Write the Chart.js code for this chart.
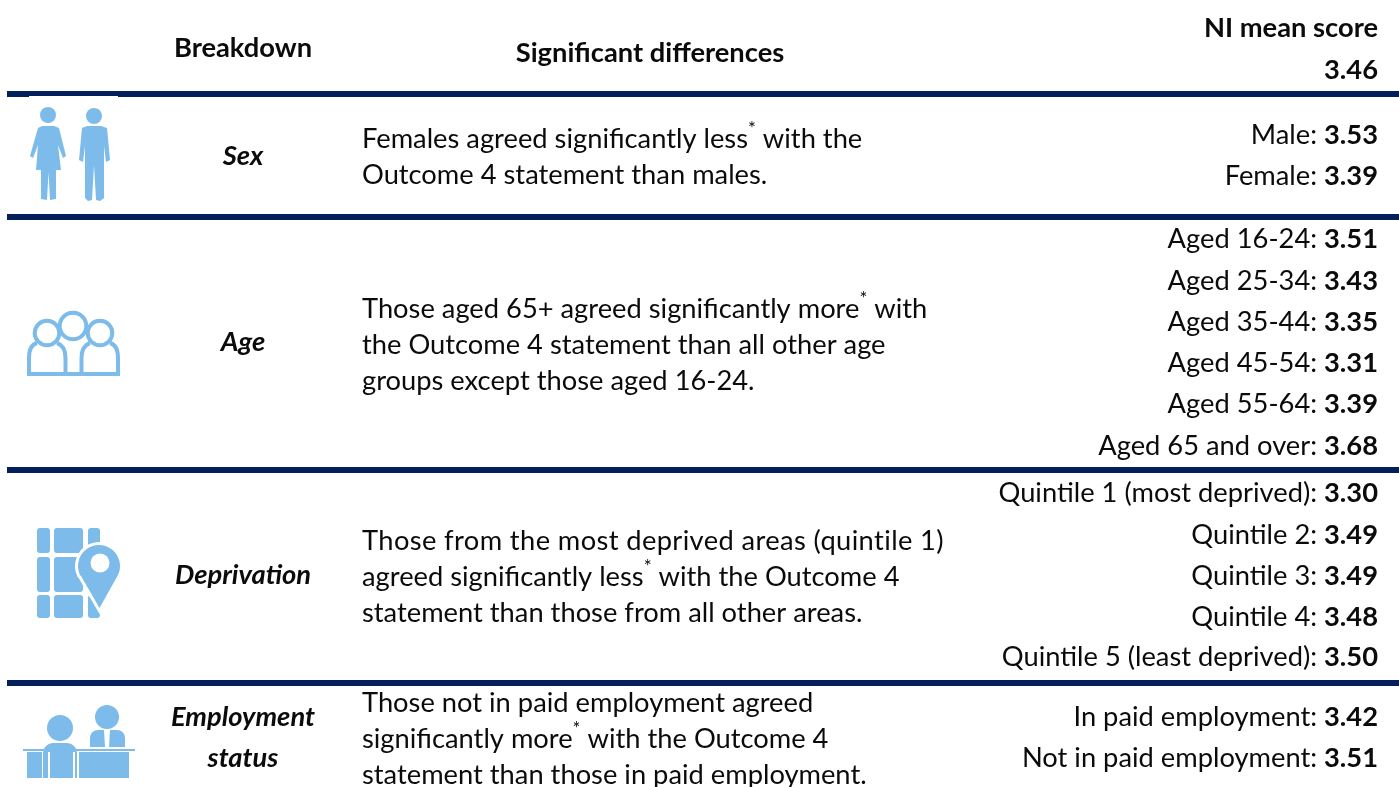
<!DOCTYPE html>
<html>
<head>
<meta charset="utf-8">
<style>
  html, body { margin: 0; padding: 0; background: #fff; }
  canvas { display: block; }
</style>
<script src="https://cdn.jsdelivr.net/npm/chart.js@4/dist/chart.umd.min.js"></script>
</head>
<body>
<canvas id="tabla" width="1399" height="787"></canvas>
<script>
const breakdowns = [['Sex'], ['Age'], ['Deprivation'], ['Employment', 'status']];

const differences = [
    [['Females agreed significantly less', '*', ' with the'], ['Outcome 4 statement than males.']],
    [['Those aged 65+ agreed significantly more', '*', ' with'], ['the Outcome 4 statement than all other age'], ['groups except those aged 16-24.']],
    [['Those from the most deprived areas (quintile 1)'], ['agreed significantly less', '*', ' with the Outcome 4'], ['statement than those from all other areas.']],
    [['Those not in paid employment agreed'], ['significantly more', '*', ' with the Outcome 4'], ['statement than those in paid employment.']]
];

const niMean = '3.46';

const rowLabels = [
    'Male', 'Female',
    'Aged 16-24', 'Aged 25-34', 'Aged 35-44', 'Aged 45-54', 'Aged 55-64', 'Aged 65 and over',
    'Quintile 1 (most deprived)', 'Quintile 2', 'Quintile 3', 'Quintile 4', 'Quintile 5 (least deprived)',
    'In paid employment', 'Not in paid employment'
];
const rowScores = ['3.53', '3.39', '3.51', '3.43', '3.35', '3.31', '3.39', '3.68', '3.30', '3.49', '3.49', '3.48', '3.50', '3.42', '3.51'];

// layout, in the units of the two scales
const ROW_Y = [135, 176, 239, 281, 322, 363, 404, 446, 493, 535, 576, 617, 657, 717, 758];
const RULE_Y = [94, 217, 470, 683];
const BREAKDOWN_Y = [[156], [342], [575], [717, 758]];
const DIFF_Y = [[139, 175], [309, 345, 381], [541, 577, 613], [703, 739, 775]];
const RIGHT_X = 1378;
const DIFF_X = 362;
const BREAKDOWN_X = 243;

const FAMILY = 'Lato, sans-serif';
const SIZE = 27.3;
const INK = '#0b0b0b';
const NAVY = '#03205c';
const ICON = '#7cbbea';

const text = (ctx, s, x, y, font, align) => {
    ctx.font = font;
    ctx.textAlign = align || 'left';
    ctx.textBaseline = 'middle';
    ctx.fillStyle = INK;
    ctx.fillText(s, x, y);
};

const rr = (ctx, x, y, w, h, r) => {
    ctx.beginPath();
    ctx.roundRect(x, y, w, h, r);
    ctx.fill();
};

const circle = (ctx, x, y, r) => {
    ctx.beginPath();
    ctx.arc(x, y, r, 0, Math.PI * 2);
    ctx.fill();
};

const poly = (ctx, pts) => {
    ctx.beginPath();
    pts.forEach((p, i) => i ? ctx.lineTo(p[0], p[1]) : ctx.moveTo(p[0], p[1]));
    ctx.closePath();
    ctx.fill();
};

const drawIcons = (ctx) => {
    ctx.save();
    ctx.fillStyle = ICON;
    ctx.strokeStyle = ICON;
    ctx.filter = 'blur(0.5px)';

    // sex
    circle(ctx, 48, 115, 8);
    poly(ctx, [[38, 128], [42, 126], [54, 126], [59, 128], [66, 156], [63, 158], [58, 145], [61, 170], [56, 170], [56, 199], [50, 200], [48.5, 172], [47, 200], [41, 199], [41, 170], [36, 170], [38, 145], [33, 158], [30, 156]]);
    circle(ctx, 94, 116, 8);
    poly(ctx, [[82, 128], [87, 126], [101, 126], [107, 128], [110, 160], [106, 162], [104, 146], [104, 198], [100, 201], [96, 200], [94, 165], [92, 200], [88, 201], [85, 198], [85, 146], [83, 162], [79, 160]]);

    // age
    ctx.lineWidth = 4;
    [[47, 333, 12.3], [73, 326, 13.3], [100, 333, 12.3]].forEach((h) => {
        ctx.beginPath();
        ctx.arc(h[0], h[1], h[2], 0, Math.PI * 2);
        ctx.stroke();
    });
    ctx.beginPath();
    ctx.moveTo(65, 374);
    ctx.lineTo(29, 374);
    ctx.lineTo(29, 358);
    ctx.quadraticCurveTo(29, 345, 37, 343);
    ctx.moveTo(57, 343);
    ctx.quadraticCurveTo(65.5, 346, 65.5, 358);
    ctx.lineTo(65.5, 374);
    ctx.lineTo(81.5, 374);
    ctx.lineTo(81.5, 358);
    ctx.quadraticCurveTo(81.5, 346, 90, 343);
    ctx.moveTo(110, 343);
    ctx.quadraticCurveTo(118, 345, 118, 358);
    ctx.lineTo(118, 374);
    ctx.lineTo(81, 374);
    ctx.stroke();

    // deprivation
    [[37, 50, [[528, 553], [557, 592], [595, 618]]], [54, 83, [[528, 553], [557, 592], [595, 618]]], [88, 100, [[528, 553], [595, 618]]]].forEach((c) => {
        c[2].forEach((r) => {
            rr(ctx, c[0], r[0], c[1] - c[0], r[1] - r[0], 3);
        });
    });
    const pin = () => {
        ctx.beginPath();
        ctx.moveTo(99.5, 608);
        ctx.lineTo(81, 576);
        ctx.arc(99, 566, 21, Math.PI * 0.85, Math.PI * 0.15);
        ctx.closePath();
    };
    ctx.lineWidth = 6;
    ctx.strokeStyle = '#fff';
    pin();
    ctx.stroke();
    ctx.fillStyle = '#fff';
    ctx.fillRect(101, 590, 20, 32);
    ctx.fillStyle = ICON;
    pin();
    ctx.fill();
    ctx.fillStyle = '#fff';
    circle(ctx, 100, 563, 9.5);

    // employment
    ctx.fillStyle = ICON;
    circle(ctx, 60, 728, 13);
    circle(ctx, 107, 717, 12);
    rr(ctx, 90, 730, 35, 17, [8, 8, 0, 0]);
    ctx.fillStyle = '#fff';
    poly(ctx, [[104, 730], [110, 730], [109, 747], [105, 747]]);
    ctx.fillStyle = ICON;
    rr(ctx, 43, 743, 34, 35, [10, 10, 0, 0]);
    ctx.fillRect(23, 749, 112, 2);
    ctx.fillRect(27, 752, 15, 26);
    ctx.fillRect(79, 752, 50, 26);
    ctx.fillStyle = '#fff';
    ctx.fillRect(48, 752, 2, 26);
    ctx.fillRect(73, 752, 2, 26);
    ctx.restore();
};

const tablePlugin = {
    id: 'tablePlugin',
    afterDatasetsDraw(chart) {
        const ctx = chart.ctx;
        const x = chart.scales.x;
        const y = chart.scales.y;
        ctx.save();

        // white notch under the first rule, above the figures
        ctx.fillStyle = '#fff';
        ctx.fillRect(x.getPixelForValue(29), y.getPixelForValue(96), 89, 2);

        drawIcons(ctx);

        // header
        const bold = `bold ${SIZE}px ${FAMILY}`;
        text(ctx, 'Breakdown', BREAKDOWN_X, 48, bold, 'center');
        text(ctx, 'Significant differences', 650, 53, bold, 'center');
        text(ctx, 'NI mean score', RIGHT_X, 28, bold, 'right');
        text(ctx, niMean, RIGHT_X, 70, bold, 'right');

        // breakdown names
        breakdowns.forEach((lines, i) => {
            lines.forEach((s, j) => {
                text(ctx, s, BREAKDOWN_X, y.getPixelForValue(BREAKDOWN_Y[i][j]), `italic bold ${SIZE}px ${FAMILY}`, 'center');
            });
        });

        // differences with their small raised star
        differences.forEach((lines, i) => {
            lines.forEach((runs, j) => {
                const py = y.getPixelForValue(DIFF_Y[i][j]);
                let px = x.getPixelForValue(DIFF_X);
                // this one line runs wider in the original
                ctx.letterSpacing = (i === 2 && j === 0) ? '0.38px' : '0px';
                runs.forEach((s) => {
                    const star = s === '*';
                    const font = star ? `${SIZE * 0.68}px ${FAMILY}` : `${SIZE}px ${FAMILY}`;
                    text(ctx, s, px, star ? py - 10 : py, font);
                    px += ctx.measureText(s).width;
                });
            });
        });
        ctx.letterSpacing = '0px';

        // label: score, right aligned, placed from the dataset's points
        const regular = `${SIZE}px ${FAMILY}`;
        chart.getDatasetMeta(0).data.forEach((pt, i) => {
            text(ctx, rowScores[i], pt.x, pt.y, bold, 'right');
            const w = ctx.measureText(rowScores[i]).width;
            text(ctx, rowLabels[i] + ': ', pt.x - w, pt.y, regular, 'right');
        });
        ctx.restore();
    }
};

const ctx1 = document.getElementById('tabla').getContext('2d');

const tabla = new Chart(ctx1, {
    type: 'scatter',
    data: {
        datasets: [
            {
                label: 'NI mean score',
                data: rowScores.map((s, i) => ({ x: RIGHT_X, y: ROW_Y[i] })),
                pointRadius: 0
            },
            ...RULE_Y.map((ry) => ({
                label: 'rule',
                data: [{ x: 7, y: ry }, { x: 1399, y: ry }],
                showLine: true,
                borderColor: NAVY,
                borderWidth: 6,
                pointRadius: 0
            }))
        ]
    },
    options: {
        responsive: false,
        animation: false,
        layout: { padding: 0 },
        plugins: { legend: { display: false }, tooltip: { enabled: false } },
        scales: {
            x: { type: 'linear', display: false, min: 0, max: 1399 },
            y: { type: 'linear', display: false, min: 0, max: 787, reverse: true }
        }
    },
    plugins: [tablePlugin]
});
</script>
</body>
</html>
